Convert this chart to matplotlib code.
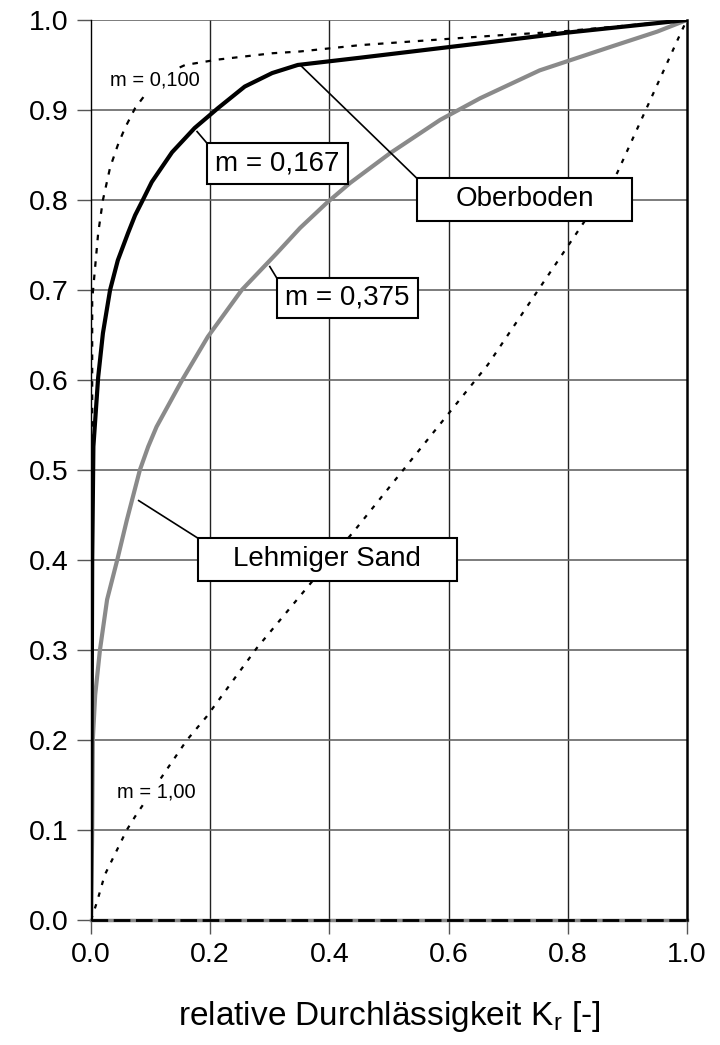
import matplotlib
matplotlib.use("Agg")
import matplotlib.pyplot as plt
from matplotlib.patches import Rectangle

plt.rcParams['font.family'] = ['Liberation Sans', 'DejaVu Sans']
plt.rcParams['mathtext.fontset'] = 'custom'
plt.rcParams['mathtext.rm'] = 'Liberation Sans'

# m = 0,100 (gestrichelt)
x_m100 = [0.0, 0.002, 0.002, 0.007, 0.012, 0.02, 0.032, 0.045, 0.057, 0.074, 0.10, 0.125, 0.158, 0.213, 0.304,
          0.351, 0.451, 0.60, 0.686, 0.787, 1.0]
y_m100 = [0.0, 0.30, 0.689, 0.726, 0.763, 0.80, 0.836, 0.861, 0.88, 0.902, 0.925, 0.94, 0.95, 0.956, 0.963,
          0.965, 0.972, 0.979, 0.983, 0.987, 1.0]
# m = 0,167 (Oberboden)
x_m167 = [0.0, 0.002, 0.004, 0.012, 0.02, 0.032, 0.045, 0.062, 0.074, 0.087, 0.102, 0.136, 0.174, 0.213, 0.258,
          0.304, 0.347, 0.451, 0.653, 0.80, 1.0]
y_m167 = [0.0, 0.40, 0.526, 0.603, 0.652, 0.70, 0.733, 0.763, 0.783, 0.80, 0.82, 0.853, 0.88, 0.902, 0.926,
          0.941, 0.95, 0.958, 0.974, 0.986, 1.0]
# m = 0,375 (Lehmiger Sand)
x_m375 = [0.0, 0.002, 0.003, 0.007, 0.015, 0.027, 0.044, 0.06, 0.082, 0.096, 0.11, 0.153, 0.196, 0.253, 0.312,
          0.351, 0.396, 0.435, 0.502, 0.586, 0.653, 0.753, 0.876, 0.95, 1.0]
y_m375 = [0.0, 0.10, 0.20, 0.25, 0.30, 0.356, 0.40, 0.444, 0.50, 0.526, 0.548, 0.60, 0.648, 0.70, 0.741,
          0.769, 0.797, 0.819, 0.852, 0.889, 0.913, 0.944, 0.971, 0.987, 1.0]
# m = 1,00 (gestrichelt)
x_m1 = [0.0, 0.01, 0.023, 0.06, 0.074, 0.13, 0.161, 0.194, 0.278, 0.445, 0.666, 0.883, 0.99, 1.0]
y_m1 = [0.0, 0.02, 0.05, 0.10, 0.115, 0.17, 0.20, 0.226, 0.302, 0.435, 0.617, 0.83, 0.986, 1.0]
# Nulllinie
x_null = [0.0, 1.0]
y_null = [0.0, 0.0]

ticks = [0.0, 0.2, 0.4, 0.6, 0.8, 1.0]
yticks = [0.0, 0.1, 0.2, 0.3, 0.4, 0.5, 0.6, 0.7, 0.8, 0.9, 1.0]

fig = plt.figure(figsize=(7.2, 10.45), dpi=100)
ax = fig.add_axes([0.1264, 0.1196, 0.8276, 0.8613])

for v in ticks[1:-1]:
    ax.axvline(v, color='#222222', lw=1.0, zorder=1)
for v in yticks[1:]:
    ax.axhline(v, color='#666666', lw=1.2, zorder=1)

ax.plot(x_null, y_null, color='#888888', lw=2.5, zorder=2, clip_on=False)
ax.plot(x_null, y_null, color='black', lw=2, ls=(0, (6, 2)), zorder=3, clip_on=False)
ax.plot(x_m375, y_m375, color='#8a8a8a', lw=3, zorder=3)
ax.plot(x_m1, y_m1, color='black', lw=1.6, ls=(0, (2, 3.5)), zorder=4)
ax.plot(x_m100, y_m100, color='black', lw=1.6, ls=(0, (2.5, 3.5)), zorder=4)
ax.plot(x_m167, y_m167, color='black', lw=3, zorder=5)

ax.set_xlim(0, 1)
ax.set_ylim(0, 1)
ax.set_xticks(ticks)
ax.set_yticks(yticks)
ax.set_xticklabels(['%.1f' % t for t in ticks], fontsize=20.5)
ax.set_yticklabels(['%.1f' % t for t in yticks], fontsize=20.5)
ax.tick_params(direction='out', length=10, width=1, color='#555555', pad=6)
ax.spines['top'].set_visible(False)
ax.spines['bottom'].set_visible(False)
ax.spines['left'].set_linewidth(1.0)
ax.spines['right'].set_linewidth(1.8)

ax.set_xlabel('relative Durchlässigkeit K$_\\mathrm{r}$ [-]', fontsize=24, labelpad=22)

# Beschriftungen mit Rahmen
boxes = [
    ('m = 0,167', 0.1946, 0.8178, 0.2366, 0.0455, (0.178, 0.876), (0.196, 0.862)),
    ('m = 0,375', 0.312, 0.6689, 0.237, 0.0444, (0.300, 0.726), (0.312, 0.713)),
    ('Oberboden', 0.547, 0.7767, 0.361, 0.0477, (0.351, 0.950), (0.547, 0.824)),
    ('Lehmiger Sand', 0.1795, 0.3767, 0.4345, 0.0477, (0.080, 0.466), (0.180, 0.424)),
]
for txt, bx, by, bw, bh, p0, p1 in boxes:
    ax.plot([p0[0], p1[0]], [p0[1], p1[1]], color='black', lw=1.2, zorder=6)
    ax.add_patch(Rectangle((bx, by), bw, bh, facecolor='white', edgecolor='black', lw=1.5, zorder=7))
    ax.text(bx + bw / 2, by + bh / 2, txt, ha='center', va='center', fontsize=20, zorder=8)

small = dict(ha='center', va='center', fontsize=14.5, zorder=8,
             bbox=dict(facecolor='white', edgecolor='none', pad=1.5))
ax.text(0.107, 0.933, 'm = 0,100', **small)
ax.text(0.110, 0.142, 'm = 1,00', **small)

fig.savefig('out.png', dpi=100)
